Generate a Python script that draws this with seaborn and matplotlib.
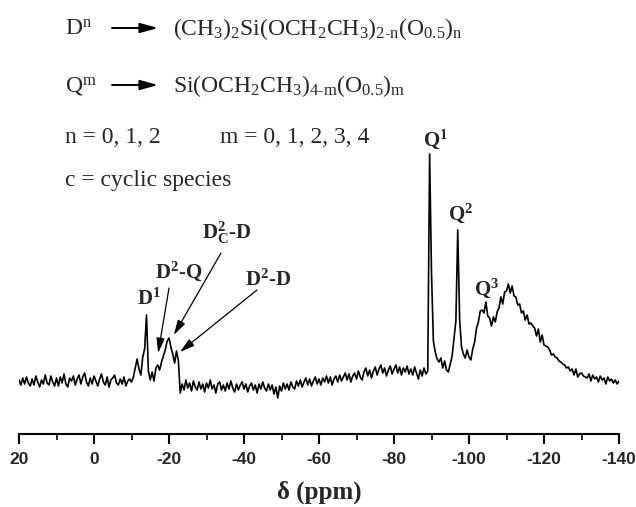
import matplotlib.pyplot as plt
import numpy as np
import pandas as pd
import seaborn as sns
from matplotlib.ticker import MultipleLocator

W, H = 636, 507

# 29Si NMR spectrum, every 0.5 ppm from 20 to -140 ppm
# (intensity in arbitrary units, baseline ~ 0)
baseline_left = [
    3, -2, 5, -1, 6, 0, -3, 4, -2, 7,
    1, -4, 3, -1, 8, 0, -2, 7, 1, -3,
    5, -3, 6, 0, 9, -1, -4, 5, 2, 7,
    -2, 4, 8, -1, 6, 10, 1, -3, 5, -1,
    7, 2, -3, 4, 9, 1, -2, 6, -4, 3,
    5, 8, 0, -2, 4, -1, 6, -3, 2, 4,
    1,
]
d_region = [
    6, 15, 24, 14, 8, 26, 34, 68, 12, 3,
    11, 2, 15, 18, 13, 21, 27, 33, 42, 45,
    36, 29, 20, 32, 22, -10, -1, -7,
]
baseline_mid = [
    3, -5, 0, -8, 2, -4, -7, 1, -6, -1,
    -9, 0, -5, 3, -6, -2, -10, -1, 1, -7,
    -2, -8, 0, -6, 2, -5, -9, -1, -7, -2,
    1, -6, -1, -9, -3, 0, -7, -2, -10, -1,
    -6, 1, -5, -8, -1, -7, -2, -11, -4, -15,
    -3, -8, 0, -6, -1, -7, 1, -4, -6, 2,
    -3, 3, -4, 1, 5, -2, 4, -3, 2, 6,
    -1, 4, -2, 5, 1, 7, 0, 6, -2, 4,
    7, 1, 8, 2, 6, 10, 3, 9, 1, 7,
    10, 4, 12, 6, 3, 11, 15, 7, 13, 5,
    12, 16, 8, 14, 18, 10, 15, 7, 13, 17,
    9, 14, 18, 10, 16, 8, 15, 11, 17, 9,
    14, 8, 16, 10, 4, 13, 7, 15, 9, 12,
]
q_region = [
    229, 110, 42, 31, 24, 21, 25, 15, 22, 13,
    11, 19, 27, 44, 62, 153, 64, 36, 29, 25,
    33, 26, 23, 34, 41, 55, 61, 72, 73, 70,
    81, 67, 65, 57, 66, 61, 71, 75, 86, 79,
    91, 92, 99, 90, 97, 87, 86, 78, 79, 70,
    72, 63, 68, 59, 60, 57, 55, 47, 54, 41,
    48, 38, 37, 36, 33, 28, 29, 26, 25, 22,
    21, 19, 18, 15, 16, 12, 14, 8, 14, 6,
    9, 10, 7, 6, 5, 9, 2, 8, 4, 6,
    1, 7, 3, 5, -1, 6, 2, 4, 0, 3,
    -1, 2,
]

intensity = baseline_left + d_region + baseline_mid + q_region
shift_ppm = 20.0 - 0.5 * np.arange(len(intensity))
spectrum = pd.DataFrame({"shift": shift_ppm, "intensity": intensity})

x_ticks = [20, 0, -20, -40, -60, -80, -100, -120, -140]

peak_labels = ["$D^1$", "$D^2$-Q", "$D^2_C$-D", "$D^2$-D", "$Q^1$", "$Q^2$", "$Q^3$"]
legend_lines = [
    ("$D^n$", r"$(CH_3)_2Si(OCH_2CH_3)_{2\text{-}n}(O_{0.5})_n$"),
    ("$Q^m$", r"$Si(OCH_2CH_3)_{4\text{-}m}(O_{0.5})_m$"),
]
note_lines = ["n = 0, 1, 2", "m = 0, 1, 2, 3, 4", "c = cyclic species"]

sns.set_theme(style="ticks")
plt.rcParams.update({
    "font.family": ["Liberation Serif", "DejaVu Serif"],
    "mathtext.fontset": "custom",
    "mathtext.rm": "Liberation Serif",
    "mathtext.it": "Liberation Serif:italic",
    "mathtext.bf": "Liberation Serif:bold",
    "mathtext.default": "regular",
    "axes.unicode_minus": False,
})

fig = plt.figure(figsize=(W / 100, H / 100), dpi=100)
ax = fig.add_axes([19 / W, (H - 434) / H, 600 / W, 434 / H])

sns.lineplot(data=spectrum, x="shift", y="intensity", color="black",
             linewidth=1.2, errorbar=None, ax=ax)

ax.set_xlim(20, -140)
ax.set_ylim(-51, 383)
for side in ["left", "right", "top"]:
    ax.spines[side].set_visible(False)
ax.spines["bottom"].set_linewidth(1.5)
ax.spines["bottom"].set_color("black")
ax.set_yticks([])
ax.set_ylabel("")
ax.set_xticks(x_ticks)
ax.set_xticklabels([str(t) for t in x_ticks], fontfamily="Liberation Sans",
                   fontweight="bold", fontsize=12.5)
ax.xaxis.set_minor_locator(MultipleLocator(10))
ax.tick_params(axis="x", which="major", direction="out", length=7, width=1.5,
               color="black", pad=6)
ax.tick_params(axis="x", which="minor", direction="out", length=4, width=1.2,
               color="black")
ax.set_xlabel("δ (ppm)", fontsize=18, fontweight="bold", labelpad=10)


def fig_px(x, y):
    return (x, H - y)


# header text
for (left, right), base_y in zip(legend_lines, [35, 92]):
    ax.annotate(left, xy=fig_px(65, base_y), xycoords="figure pixels",
                fontsize=17, va="baseline", ha="left")
    ax.annotate(right, xy=fig_px(173, base_y), xycoords="figure pixels",
                fontsize=17, va="baseline", ha="left")
    ax.annotate("", xy=fig_px(158, base_y - 7), xycoords="figure pixels",
                xytext=fig_px(112, base_y - 7), textcoords="figure pixels",
                arrowprops=dict(arrowstyle="-|>,head_length=0.9,head_width=0.25",
                                color="black", lw=1.4, mutation_scale=12,
                                shrinkA=0, shrinkB=0))

for text, (x, y) in zip(note_lines, [(65, 143), (220, 143), (65, 186)]):
    ax.annotate(text, xy=fig_px(x, y), xycoords="figure pixels",
                fontsize=17, va="baseline", ha="left")

# peak labels
label_pos = [(137, 305), (155, 278), (202, 239), (245, 286),
             (423, 146), (448, 220), (474, 295)]
for text, (x, y) in zip(peak_labels, label_pos):
    ax.annotate(text, xy=fig_px(x, y), xycoords="figure pixels",
                fontsize=15, fontweight="bold", va="baseline", ha="left")

# arrows pointing at the D2 signals
arrow_tips = [(-17.1, 30), (-21.3, 48), (-22.9, 31)]
arrow_tails = [(169, 288), (221, 253), (257, 290)]
for tip, tail in zip(arrow_tips, arrow_tails):
    ax.annotate("", xy=tip, xycoords="data",
                xytext=fig_px(*tail), textcoords="figure pixels",
                arrowprops=dict(arrowstyle="-|>,head_length=0.9,head_width=0.25",
                                color="black", lw=0.9, mutation_scale=10,
                                shrinkA=0, shrinkB=0))

fig.savefig("out.png", dpi=100, facecolor="white")
